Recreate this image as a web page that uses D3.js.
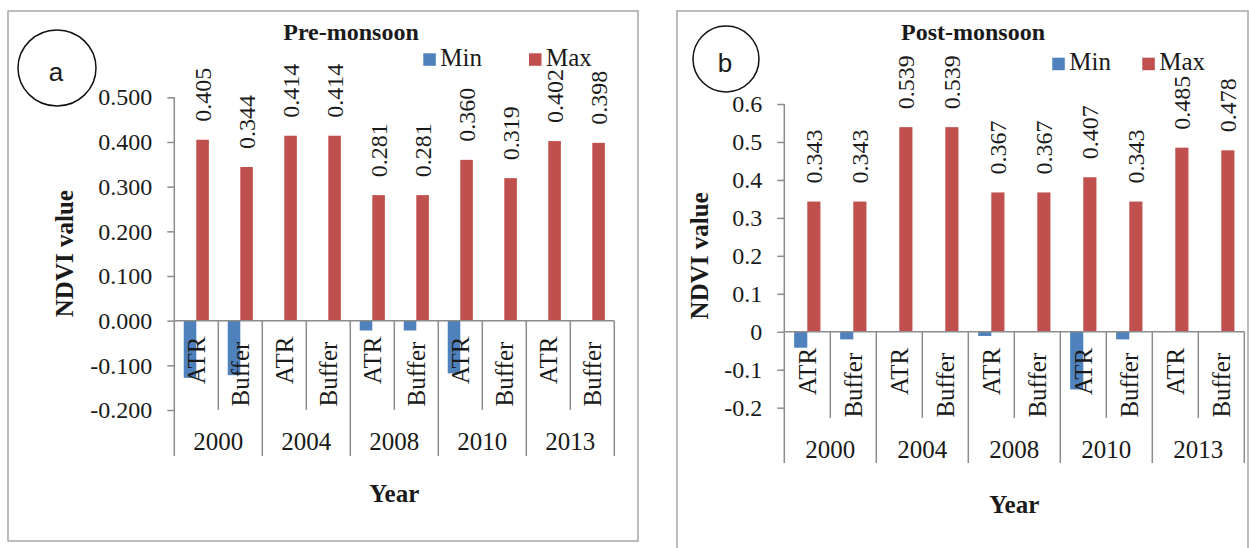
<!doctype html>
<html lang="en">
<head>
  <meta charset="utf-8">
  <title>NDVI min / max</title>
  <style>
    * { margin: 0; padding: 0; box-sizing: border-box; }
    body { background: #fff; }
    svg text { font-family: "Liberation Serif", "Times New Roman", serif; fill: #1a1a1a; }
    .tick text { font-size: 24px; }
    .ttl { font-weight: bold; font-size: 24px; }
    .badge { font-family: "Liberation Sans", Arial, sans-serif; font-size: 26px; }
  </style>
</head>
<body>
  <div id="container"></div>
  <script src="https://cdn.jsdelivr.net/npm/d3@7"></script>
  <script>
    // data
    const years = ["2000", "2004", "2008", "2010", "2013"];
    const sites = ["ATR", "Buffer"];
    const series = ["Min", "Max"];

    const preMin = [-0.128, -0.122, 0, 0, -0.022, -0.022, -0.118, 0, 0, 0];
    const preMax = [0.405, 0.344, 0.414, 0.414, 0.281, 0.281, 0.360, 0.319, 0.402, 0.398];
    const postMin = [-0.042, -0.020, 0, 0, -0.011, 0, -0.152, -0.020, 0, 0];
    const postMax = [0.343, 0.343, 0.539, 0.539, 0.367, 0.367, 0.407, 0.343, 0.485, 0.478];

    const preTicks = [-0.2, -0.1, 0, 0.1, 0.2, 0.3, 0.4, 0.5];
    const postTicks = [-0.2, -0.1, 0, 0.1, 0.2, 0.3, 0.4, 0.5, 0.6];

    const colors = { Min: "#4f81bd", Max: "#c0504d" };
    const axisCol = "#8c8c8c";

    const W = 1249, H = 548;
    const svg = d3.select("#container").append("svg").attr("width", W).attr("height", H);

    const panels = [
      { title: "Pre-monsoon", letter: "a", min: preMin, max: preMax, ticks: preTicks,
        fmt: d => d.toFixed(3), frame: [8, 11, 630, 530],
        x0: 174.3, x1: 614.3, yTop: 97.3, yBot: 410,
        titleX: 351, circle: [57, 68, 39, 38],
        innerEnd: 410, yearY: 441, yearEnd: 456, yearTitleY: 493, yTitleX: 64,
        legY: 53.3, legMin: 423.3, legMax: 529 },
      { title: "Post-monsoon", letter: "b", min: postMin, max: postMax, ticks: postTicks,
        fmt: d => d === 0 ? "0" : d.toFixed(1), frame: [677, 11, 571, 600],
        x0: 784.3, x1: 1244.3, yTop: 104, yBot: 407.7,
        titleX: 973, circle: [726, 59, 33, 33],
        innerEnd: 418, yearY: 449, yearEnd: 463, yearTitleY: 504, yTitleX: 699,
        legY: 57.7, legMin: 1052.3, legMax: 1142.3 }
    ];

    panels.forEach(p => {
      const g = svg.append("g");
      const [fx, fy, fw, fh] = p.frame;
      g.append("rect").attr("x", fx).attr("y", fy).attr("width", fw).attr("height", fh)
        .attr("fill", "none").attr("stroke", "#a6a6a6").attr("stroke-width", 1.5);

      const cats = d3.range(10);
      const x = d3.scaleBand().domain(cats).range([p.x0, p.x1]);
      const xs = d3.scaleBand().domain(series).range([0, x.bandwidth()]).paddingOuter(0.75);
      const y = d3.scaleLinear().domain([d3.min(p.ticks), d3.max(p.ticks)]).range([p.yBot, p.yTop]);
      const zero = y(0);

      // y axis
      const ax = g.append("g").attr("transform", `translate(${p.x0},0)`)
        .call(d3.axisLeft(y).tickValues(p.ticks).tickFormat(p.fmt).tickSize(7).tickSizeOuter(0).tickPadding(15));
      ax.attr("font-family", null).attr("font-size", null);
      ax.selectAll("path, line").attr("stroke", axisCol).attr("stroke-width", 1.5);
      ax.select(".domain").remove();
      g.append("line").attr("x1", p.x0).attr("x2", p.x0).attr("y1", p.yTop).attr("y2", p.yearEnd)
        .attr("stroke", axisCol).attr("stroke-width", 1.5);
      ax.selectAll(".tick text").attr("fill", "#1a1a1a");

      // bars
      const rows = cats.map(i => ({ i, Min: p.min[i], Max: p.max[i] }));
      series.forEach(s => {
        g.selectAll(null).data(rows.filter(r => r[s] !== 0)).enter().append("rect")
          .attr("x", r => x(r.i) + xs(s))
          .attr("width", xs.bandwidth())
          .attr("y", r => Math.min(y(r[s]), zero))
          .attr("height", r => Math.abs(y(r[s]) - zero))
          .attr("fill", colors[s]);
      });

      // value labels on Max
      g.selectAll(null).data(rows).enter().append("text")
        .attr("transform", r => `translate(${x(r.i) + xs("Max") + xs.bandwidth() / 2},${y(r.Max) - 18}) rotate(-90)`)
        .attr("dy", "0.35em")
        .style("font-size", "24px")
        .text(r => r.Max.toFixed(3));

      // zero line and category separators
      g.append("line").attr("x1", p.x0).attr("x2", p.x1).attr("y1", zero).attr("y2", zero)
        .attr("stroke", axisCol).attr("stroke-width", 1.5);
      d3.range(1, 11).forEach(k => {
        const bx = p.x0 + k * x.step();
        g.append("line").attr("x1", bx).attr("x2", bx).attr("y1", zero)
          .attr("y2", k % 2 === 0 ? p.yearEnd : p.innerEnd)
          .attr("stroke", axisCol).attr("stroke-width", 1.5);
      });

      // category labels
      g.selectAll(null).data(cats).enter().append("text")
        .attr("transform", i => `translate(${x(i) + x.bandwidth() / 2},${zero + (i % 2 ? 21 : 16)}) rotate(-90)`)
        .attr("dy", "0.35em").attr("text-anchor", "end")
        .style("font-size", "25px")
        .text(i => sites[i % 2]);

      g.selectAll(null).data(years).enter().append("text")
        .attr("x", (d, j) => p.x0 + (j * 2 + 1) * x.step())
        .attr("y", p.yearY).attr("dy", "0.35em").attr("text-anchor", "middle")
        .style("font-size", "25px")
        .text(d => d);

      // titles
      g.append("text").attr("class", "ttl").attr("x", p.titleX).attr("y", 40)
        .attr("text-anchor", "middle").text(p.title);
      g.append("text").attr("class", "ttl").attr("x", (p.x0 + p.x1) / 2).attr("y", p.yearTitleY)
        .attr("dy", "0.35em").attr("text-anchor", "middle").style("font-size", "25px").text("Year");
      g.append("text").attr("class", "ttl")
        .attr("transform", `translate(${p.yTitleX},${(p.yTop + p.yBot) / 2}) rotate(-90)`)
        .attr("dy", "0.35em").attr("text-anchor", "middle").style("font-size", "25px").text("NDVI value");

      // legend
      [["Min", p.legMin], ["Max", p.legMax]].forEach(([s, lx]) => {
        g.append("rect").attr("x", lx).attr("y", p.legY).attr("width", 12.5).attr("height", 12.5)
          .attr("fill", colors[s]);
        g.append("text").attr("x", lx + 17).attr("y", p.legY + 12.5)
          .style("font-size", "25px").text(s);
      });

      // panel badge
      const [cx, cy, rx, ry] = p.circle;
      g.append("ellipse").attr("cx", cx).attr("cy", cy).attr("rx", rx).attr("ry", ry)
        .attr("fill", "none").attr("stroke", "#111").attr("stroke-width", 1.5);
      g.append("text").attr("class", "badge").attr("x", cx - 1).attr("y", cy + 4)
        .attr("dy", "0.35em").attr("text-anchor", "middle").text(p.letter);
    });
  </script>
</body>
</html>
